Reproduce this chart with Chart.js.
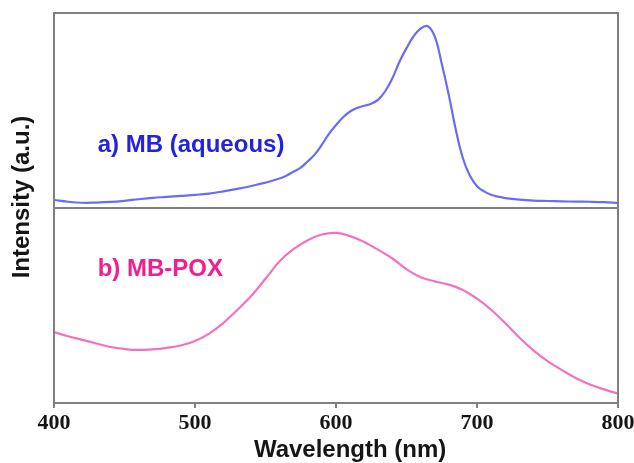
<!DOCTYPE html>
<html>
<head>
<meta charset="utf-8">
<script src="https://cdn.jsdelivr.net/npm/chart.js@4.4.1/dist/chart.umd.min.js"></script>
<style>
  html, body { margin: 0; padding: 0; background: #fff; }
</style>
</head>
<body>
<canvas id="spectraChart" width="634" height="463"></canvas>
<script>
// Emission spectra: methylene blue in water (top) and in the POX matrix (bottom)

const xTicks = [400, 500, 600, 700, 800];

const mbWavelength = [
  400, 410, 420, 430, 440, 450, 460, 470, 480, 490, 500, 510, 520, 530, 540, 550,
  560, 565, 570, 575, 580, 585, 590, 595, 600, 605, 610, 615, 620, 625, 630, 635,
  640, 645, 650, 655, 660, 665, 670, 675, 680, 685, 690, 695, 700, 705, 710, 715,
  720, 730, 740, 750, 760, 770, 780, 790, 800
];
const mbIntensity = [
  0.041, 0.032, 0.027, 0.028, 0.031, 0.037, 0.045, 0.052, 0.057, 0.062, 0.067, 0.074, 0.085, 0.098, 0.113, 0.130,
  0.151, 0.167, 0.187, 0.207, 0.240, 0.275, 0.325, 0.380, 0.425, 0.465, 0.495, 0.513, 0.524, 0.535, 0.556, 0.600,
  0.665, 0.750, 0.820, 0.880, 0.920, 0.932, 0.880, 0.740, 0.580, 0.400, 0.255, 0.165, 0.112, 0.085, 0.068, 0.058,
  0.051, 0.043, 0.038, 0.036, 0.034, 0.033, 0.032, 0.030, 0.026
];

const poxWavelength = [
  400, 410, 420, 430, 440, 450, 460, 470, 480, 490, 500, 510, 520, 530, 540, 550,
  560, 570, 580, 590, 600, 610, 620, 630, 640, 650, 660, 670, 680, 690, 700, 710,
  720, 730, 740, 750, 760, 770, 780, 790, 800
];
const poxIntensity = [
  0.364, 0.342, 0.324, 0.305, 0.287, 0.277, 0.272, 0.275, 0.283, 0.295, 0.318, 0.356, 0.410, 0.477, 0.550, 0.637,
  0.727, 0.790, 0.835, 0.864, 0.872, 0.856, 0.826, 0.785, 0.741, 0.686, 0.645, 0.624, 0.607, 0.580, 0.535, 0.478,
  0.410, 0.336, 0.270, 0.215, 0.170, 0.128, 0.095, 0.070, 0.048
];

const panelNames = ['a) MB (aqueous)', 'b) MB-POX'];

const frameColor = '#808080';
const textColor = '#151515';
const sansBold = 'bold 24px "Liberation Sans", Arial, sans-serif';
const mbLine = '#6c6cf2';
const mbText = '#2222e2';
const poxLine = '#f472bb';
const poxText = '#f01e8e';

function toPoints(xs, ys) {
  return xs.map((x, i) => ({ x: x, y: ys[i] }));
}

// frame, divider, panel captions and both axis titles
const spectraDecor = {
  id: 'spectraDecor',
  afterDraw(chart) {
    const { ctx, chartArea, scales } = chart;
    ctx.save();
    ctx.strokeStyle = frameColor;
    ctx.lineWidth = 2;
    ctx.strokeRect(chartArea.left, chartArea.top, chartArea.width, chartArea.height);
    ctx.beginPath();
    ctx.moveTo(chartArea.left, scales.yBottom.top);
    ctx.lineTo(chartArea.right, scales.yBottom.top);
    ctx.stroke();

    ctx.font = sansBold;
    ctx.textBaseline = 'middle';
    ctx.textAlign = 'left';
    const capX = scales.x.getPixelForValue(431);
    ctx.fillStyle = mbText;
    ctx.fillText(panelNames[0], capX, scales.yTop.getPixelForValue(0.32));
    ctx.fillStyle = poxText;
    ctx.fillText(panelNames[1], capX, scales.yBottom.getPixelForValue(0.685));

    ctx.fillStyle = textColor;
    ctx.textAlign = 'center';
    ctx.fillText('Wavelength (nm)', scales.x.getPixelForValue(610), chartArea.bottom + 47);

    ctx.translate(chartArea.left - 32, (chartArea.top + chartArea.bottom) / 2 - 11);
    ctx.rotate(-Math.PI / 2);
    ctx.fillText('Intensity (a.u.)', 0, 0);
    ctx.restore();
  }
};

const panelAxis = (weight) => ({
  type: 'linear',
  position: 'left',
  stack: 'panels',
  stackWeight: 1,
  weight: weight,
  min: 0,
  max: 1,
  ticks: { display: false },
  grid: { display: false },
  border: { display: false },
  afterFit: (scale) => { scale.width = 54; }
});

const lineStyle = { borderWidth: 2.2, pointRadius: 0, tension: 0.4 };

new Chart(document.getElementById('spectraChart'), {
  type: 'line',
  data: {
    datasets: [
      Object.assign({
        label: 'MB (aqueous)',
        data: toPoints(mbWavelength, mbIntensity),
        yAxisID: 'yTop',
        borderColor: mbLine
      }, lineStyle),
      Object.assign({
        label: 'MB-POX',
        data: toPoints(poxWavelength, poxIntensity),
        yAxisID: 'yBottom',
        borderColor: poxLine
      }, lineStyle)
    ]
  },
  options: {
    responsive: false,
    animation: false,
    layout: {
      autoPadding: false,
      padding: { top: 13, right: 16, bottom: 25, left: 0 }
    },
    plugins: {
      legend: { display: false },
      tooltip: { enabled: false }
    },
    scales: {
      x: {
        type: 'linear',
        min: 400,
        max: 800,
        afterBuildTicks: (scale) => { scale.ticks = xTicks.map(v => ({ value: v })); },
        // let the end labels hang over the canvas edge instead of shrinking the plot
        afterFit: (scale) => { scale.paddingLeft = 0; scale.paddingRight = 0; },
        grid: { drawOnChartArea: false, tickLength: 5, color: frameColor, lineWidth: 2 },
        border: { color: frameColor, width: 2 },
        ticks: {
          color: textColor,
          padding: 4,
          maxRotation: 0,
          font: { family: '"Liberation Serif", "Times New Roman", serif', size: 22, weight: 'bold', lineHeight: 1 }
        }
      },
      yTop: panelAxis(1),
      yBottom: panelAxis(0)
    }
  },
  plugins: [spectraDecor]
});
</script>
</body>
</html>
